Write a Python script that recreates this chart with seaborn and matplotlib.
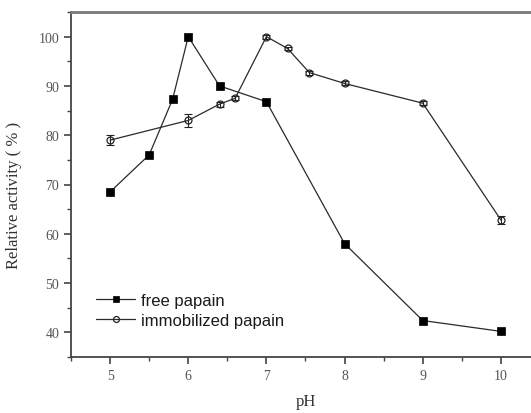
import numpy as np
import pandas as pd
import matplotlib
matplotlib.use("Agg")
import matplotlib.pyplot as plt
import seaborn as sns
from matplotlib.ticker import MultipleLocator

# Data
free_ph = [5.0, 5.5, 5.8, 6.0, 6.4, 7.0, 8.0, 9.0, 10.0]
free_act = [68.5, 76.0, 87.3, 100.0, 90.0, 86.8, 58.0, 42.4, 40.2]

imm_ph = [5.0, 6.0, 6.4, 6.6, 7.0, 7.27, 7.55, 8.0, 9.0, 10.0]
imm_act = [79.0, 83.0, 86.3, 87.5, 100.0, 97.6, 92.7, 90.5, 86.5, 62.8]
imm_err = [1.0, 1.3, 0.5, 0.4, 0.4, 0.4, 0.4, 0.4, 0.4, 0.8]

x_ticks = [5, 6, 7, 8, 9, 10]
y_ticks = [40, 50, 60, 70, 80, 90, 100]

sns.set_style("ticks")
plt.rcParams["font.family"] = ["Liberation Serif", "DejaVu Serif"]

W, H = 531, 414
fig = plt.figure(figsize=(W / 100, H / 100), dpi=100)
left, right, top, bottom = 71, 540, 13, 358
ax = fig.add_axes([left / W, 1 - bottom / H, (right - left) / W, (bottom - top) / H])

line_c = "#2a2a2a"
df_free = pd.DataFrame({"pH": free_ph, "act": free_act})
df_imm = pd.DataFrame({"pH": imm_ph, "act": imm_act})

ax.errorbar(imm_ph, imm_act, yerr=imm_err, fmt="none", ecolor="#222222",
            elinewidth=0.8, capsize=2.8, capthick=0.8, zorder=2)
sns.lineplot(data=df_free, x="pH", y="act", ax=ax, color=line_c, lw=0.9,
             marker="s", markersize=5.2, markerfacecolor="black",
             markeredgecolor="black", markeredgewidth=0.5,
             label="free papain", zorder=3)
sns.lineplot(data=df_imm, x="pH", y="act", ax=ax, color=line_c, lw=0.9,
             marker="o", markersize=5, markerfacecolor="none",
             markeredgecolor="#222222", markeredgewidth=0.9,
             label="immobilized papain", zorder=3)

ax.set_xlim(4.5, 10.5)
ax.set_ylim(35, 105)
ax.set_xticks(x_ticks)
ax.set_yticks(y_ticks)
ax.xaxis.set_minor_locator(MultipleLocator(0.5))
ax.yaxis.set_minor_locator(MultipleLocator(5))
ax.tick_params(axis="both", which="major", direction="out", length=5,
               width=1.2, color="#444444", labelsize=10, labelcolor="#555555")
ax.tick_params(axis="both", which="minor", direction="out", length=3,
               width=1.0, color="#444444")
ax.set_xticklabels([str(t) for t in x_ticks])
ax.set_yticklabels([str(t) for t in y_ticks])

for s in ["left", "bottom"]:
    ax.spines[s].set_color("#444444")
    ax.spines[s].set_linewidth(1.3)
ax.spines["top"].set_visible(True)
ax.spines["top"].set_color("#777777")
ax.spines["top"].set_linewidth(2.0)
ax.spines["right"].set_visible(False)

ax.set_xlabel("pH", fontsize=12, color="#333333", labelpad=8)
ax.set_ylabel("Relative activity ( % )", fontsize=12, color="#333333")
ax.yaxis.set_label_coords((22 - left) / (right - left), (bottom - 195) / (bottom - top))

leg = ax.legend(loc="lower left", bbox_to_anchor=(0.04, 0.066), frameon=False,
                prop={"family": "Liberation Sans", "size": 12},
                handlelength=2.3, handletextpad=0.4, labelspacing=0.3,
                borderaxespad=0, markerscale=0.85)
for t in leg.get_texts():
    t.set_color("#1a1a1a")

fig.savefig("out.png", dpi=100)
